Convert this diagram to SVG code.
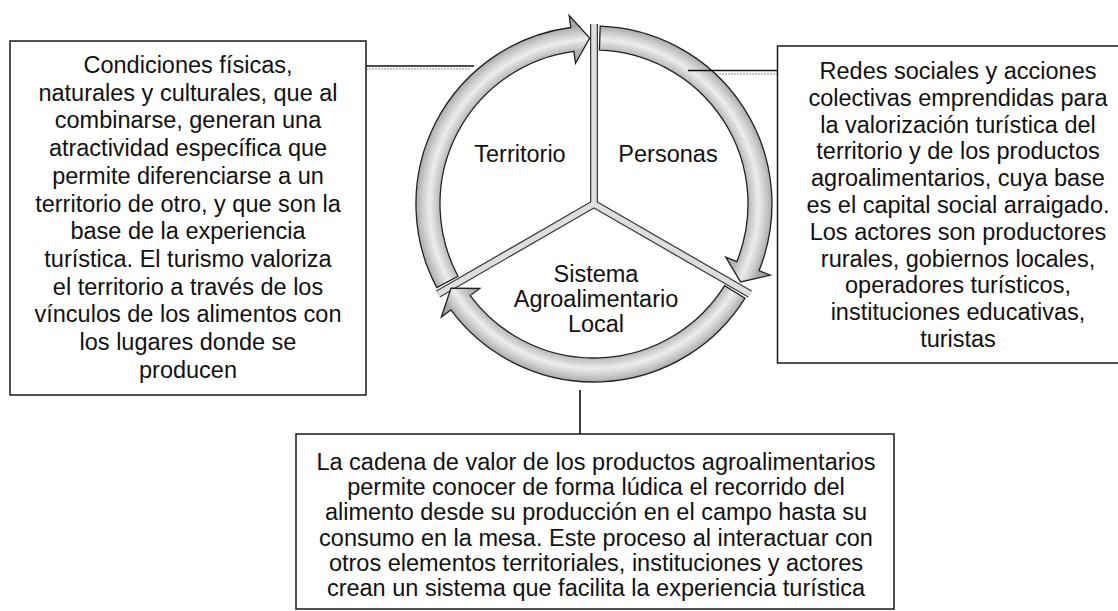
<svg xmlns="http://www.w3.org/2000/svg" width="1118" height="611" viewBox="0 0 1118 611">
<defs>
<radialGradient id="ringGrad" gradientUnits="userSpaceOnUse" cx="594" cy="204" r="190">
<stop offset="0.74" stop-color="#a4a4a4"/>
<stop offset="0.81" stop-color="#b8b8b8"/>
<stop offset="0.865" stop-color="#ececec"/>
<stop offset="0.9" stop-color="#d0d0d0"/>
<stop offset="0.94" stop-color="#a8a8a8"/>
<stop offset="1" stop-color="#999999"/>
</radialGradient>
<style>
.box{fill:#ffffff;stroke:#1a1a1a;stroke-width:1.5}
.txt{font-family:"Liberation Sans",Arial,sans-serif;font-size:23.5px;fill:#111111;text-anchor:middle}
.arrow{fill:url(#ringGrad);stroke:#222222;stroke-width:1.3;stroke-linejoin:miter}
.divd{stroke:#3a3a3a;stroke-width:8;fill:none}
.divl{stroke:#dedede;stroke-width:5.5;fill:none}
.conn{stroke:#111111;stroke-width:1.6;fill:none}
.shad{stroke:#b4b4b4;stroke-width:1.6;fill:none;stroke-dasharray:2 1}
</style>
</defs>
<rect width="1118" height="611" fill="#ffffff"/>

<g id="connectors">
<line class="conn" x1="366" y1="66" x2="474" y2="66"/>
<line class="shad" x1="366" y1="69" x2="470" y2="69"/>
<line class="shad" x1="713" y1="74" x2="777" y2="74"/>
<line class="conn" x1="580" y1="390" x2="580" y2="434"/>
</g>

<g id="cycle">
<circle cx="594" cy="204" r="156" fill="#ffffff"/>
<line class="divd" x1="594" y1="204" x2="594" y2="24"/>
<line class="divd" x1="594" y1="204" x2="749.9" y2="294"/>
<line class="divd" x1="594" y1="204" x2="438.1" y2="294"/>
<line class="divl" x1="594" y1="204" x2="594" y2="24"/>
<line class="divl" x1="594" y1="204" x2="749.9" y2="294"/>
<line class="divl" x1="594" y1="204" x2="438.1" y2="294"/>
<g id="arrow-territorio">
<path class="arrow" d="M436.8,287.6 A178,178 0 0 1 570.8,27.5 L569.2,15.6 L589.7,38.1 L575.5,63.2 L573.9,51.3 A154,154 0 0 0 458.0,276.3 Z"/>
</g>
<g id="arrow-personas">
<path class="arrow" d="M600.2,26.1 A178,178 0 0 1 759.0,270.7 L770.2,275.2 L740.6,281.9 L725.7,257.2 L736.8,261.7 A154,154 0 0 0 599.4,50.1 Z"/>
</g>
<g id="arrow-sistema">
<path class="arrow" d="M744.9,298.3 A178,178 0 0 1 450.9,309.9 L441.3,317.0 L451.0,288.2 L479.8,288.5 L470.2,295.6 A154,154 0 0 0 724.6,285.6 Z"/>
</g>
<line class="conn" x1="688" y1="70.5" x2="777" y2="70.5"/>
<g id="label-territorio"><text class="txt" x="520" y="162">Territorio</text></g>
<g id="label-personas"><text class="txt" x="668" y="162">Personas</text></g>
<g id="label-sistema">
<text class="txt" x="596" y="282">Sistema</text>
<text class="txt" x="596" y="307">Agroalimentario</text>
<text class="txt" x="596" y="332">Local</text>
</g>
</g>

<g id="box-territorio">
<rect class="box" x="10" y="41" width="356" height="354"/>
<text class="txt" x="188" y="73">Condiciones físicas,</text>
<text class="txt" x="188" y="100.7">naturales y culturales, que al</text>
<text class="txt" x="188" y="128.4">combinarse, generan una</text>
<text class="txt" x="188" y="156.1">atractividad específica que</text>
<text class="txt" x="188" y="183.8">permite diferenciarse a un</text>
<text class="txt" x="188" y="211.5">territorio de otro, y que son la</text>
<text class="txt" x="188" y="239.2">base de la experiencia</text>
<text class="txt" x="188" y="266.9">turística. El turismo valoriza</text>
<text class="txt" x="188" y="294.6">el territorio a través de los</text>
<text class="txt" x="188" y="322.3">vínculos de los alimentos con</text>
<text class="txt" x="188" y="350">los lugares donde se</text>
<text class="txt" x="188" y="377.7">producen</text>
</g>

<g id="box-personas">
<rect class="box" x="777.5" y="46" width="360" height="317"/>
<text class="txt" x="958" y="79">Redes sociales y acciones</text>
<text class="txt" x="958" y="105.8">colectivas emprendidas para</text>
<text class="txt" x="958" y="132.6">la valorización turística del</text>
<text class="txt" x="958" y="159.4">territorio y de los productos</text>
<text class="txt" x="958" y="186.2">agroalimentarios, cuya base</text>
<text class="txt" x="958" y="213">es el capital social arraigado.</text>
<text class="txt" x="958" y="239.8">Los actores son productores</text>
<text class="txt" x="958" y="266.6">rurales, gobiernos locales,</text>
<text class="txt" x="958" y="293.4">operadores turísticos,</text>
<text class="txt" x="958" y="320.2">instituciones educativas,</text>
<text class="txt" x="958" y="347">turistas</text>
</g>

<g id="box-sistema">
<rect class="box" x="296" y="434" width="598" height="175"/>
<text class="txt" x="596" y="470">La cadena de valor de los productos agroalimentarios</text>
<text class="txt" x="596" y="495.2">permite conocer de forma lúdica el recorrido del</text>
<text class="txt" x="596" y="520.4">alimento desde su producción en el campo hasta su</text>
<text class="txt" x="596" y="545.6">consumo en la mesa. Este proceso al interactuar con</text>
<text class="txt" x="596" y="570.8">otros elementos territoriales, instituciones y actores</text>
<text class="txt" x="596" y="596">crean un sistema que facilita la experiencia turística</text>
</g>
</svg>
